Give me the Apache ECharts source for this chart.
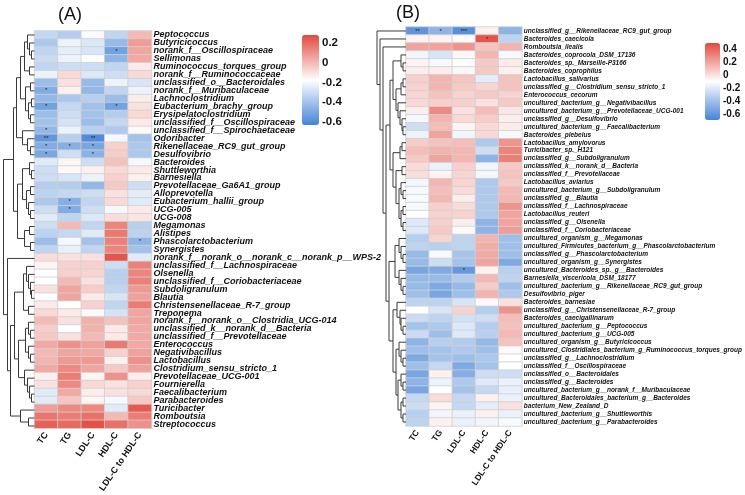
<!DOCTYPE html>
<html><head><meta charset="utf-8">
<script src="https://cdn.jsdelivr.net/npm/echarts@6/dist/echarts.min.js"></script>
<style>html,body{margin:0;padding:0;background:#fff}#c{width:745px;height:495px}</style>
</head><body><div id="c"></div>
<script>
const cols = ['TC','TG','LDL-C','HDL-C','LDL-C to HDL-C'];

const rowsA = ['Peptococcus','Butyricicoccus','norank_f__Oscillospiraceae','Sellimonas','Ruminococcus_torques_group','norank_f__Ruminococcaceae','unclassified_o__Bacteroidales','norank_f__Muribaculaceae','Lachnoclostridium','Eubacterium_brachy_group','Erysipelatoclostridium','unclassified_f__Oscillospiraceae','unclassified_f__Spirochaetaceae','Odoribacter','Rikenellaceae_RC9_gut_group','Desulfovibrio','Bacteroides','Shuttleworthia','Barnesiella','Prevotellaceae_Ga6A1_group','Alloprevotella','Eubacterium_hallii_group','UCG-005','UCG-008','Megamonas','Alistipes','Phascolarctobacterium','Synergistes','norank_f__norank_o__norank_c__norank_p__WPS-2','unclassified_f__Lachnospiraceae','Olsenella','unclassified_f__Coriobacteriaceae','Subdoligranulum','Blautia','Christensenellaceae_R-7_group','Treponema','norank_f__norank_o__Clostridia_UCG-014','unclassified_k__norank_d__Bacteria','unclassified_f__Prevotellaceae','Enterococcus','Negativibacillus','Lactobacillus','Clostridium_sensu_stricto_1','Prevotellaceae_UCG-001','Fournierella','Faecalibacterium','Parabacteroides','Turicibacter','Romboutsia','Streptococcus'];

const valuesA = [
[-0.32,-0.36,-0.19,-0.33,0.00],[-0.38,-0.22,-0.26,-0.43,0.07],[-0.33,-0.24,-0.27,-0.52,0.05],[-0.31,-0.22,-0.17,-0.45,0.04],
[-0.33,-0.30,-0.30,-0.33,-0.12],[-0.22,-0.08,-0.26,-0.30,-0.08],[-0.42,-0.10,-0.43,-0.22,-0.27],[-0.48,-0.14,-0.44,-0.33,-0.22],
[-0.44,-0.38,-0.35,-0.42,-0.13],[-0.52,-0.32,-0.40,-0.52,-0.10],[-0.42,-0.30,-0.40,-0.36,-0.08],[-0.40,-0.28,-0.42,-0.32,-0.12],
[-0.44,-0.22,-0.35,-0.37,-0.16],[-0.56,-0.35,-0.60,-0.20,-0.40],[-0.48,-0.47,-0.50,-0.06,-0.38],[-0.50,-0.30,-0.46,-0.05,-0.38],
[-0.25,-0.15,-0.30,-0.02,-0.20],[-0.30,-0.16,-0.14,-0.08,-0.12],[-0.30,-0.27,-0.22,-0.06,-0.14],[-0.36,-0.36,-0.44,-0.04,-0.30],
[-0.34,-0.32,-0.30,-0.10,-0.24],[-0.38,-0.47,-0.33,-0.08,-0.25],[-0.30,-0.48,-0.30,-0.20,-0.12],[-0.25,-0.33,-0.26,-0.09,-0.11],
[-0.30,0.00,-0.33,0.13,-0.35],[-0.34,-0.32,-0.25,0.16,-0.34],[-0.42,-0.20,-0.40,0.14,-0.45],[-0.33,-0.23,-0.33,0.13,-0.40],
[-0.09,-0.10,-0.10,0.25,-0.25],[-0.15,-0.06,-0.06,-0.30,0.14],[-0.17,-0.06,-0.07,-0.35,0.13],[-0.18,0.00,-0.10,-0.35,0.14],
[-0.10,0.05,-0.05,-0.33,0.08],[-0.17,0.05,-0.12,-0.27,0.06],[-0.12,-0.18,-0.06,-0.33,0.15],[-0.08,-0.12,-0.16,-0.28,0.05],
[0.00,-0.10,0.02,-0.02,0.05],[-0.05,-0.18,0.02,-0.12,0.04],[-0.04,-0.10,0.00,-0.12,0.04],[0.04,0.10,0.06,0.16,0.04],
[0.00,0.05,0.04,-0.06,0.06],[0.01,0.08,0.08,-0.14,0.10],[0.04,0.12,0.05,-0.04,0.06],[-0.14,0.15,-0.15,0.10,-0.13],
[-0.10,0.12,-0.08,-0.10,-0.06],[-0.25,0.04,-0.13,-0.10,-0.08],[-0.25,-0.03,-0.15,-0.20,-0.04],[0.07,0.12,0.12,-0.25,0.24],
[0.17,0.15,0.18,0.00,0.15],[0.22,0.20,0.26,0.18,0.10]];

const sigA = [[3,4,'*'],[8,1,'*'],[10,1,'*'],[10,4,'*'],[13,1,'*'],[14,1,'**'],[14,3,'**'],[15,1,'*'],[15,2,'*'],[15,3,'*'],[16,1,'*'],[16,3,'*'],[22,2,'*'],[23,2,'*'],[27,5,'*']];

const rowsB = ['unclassified_g__Rikenellaceae_RC9_gut_group','Bacteroides_caecicola','Romboutsia_ilealis','Bacteroides_coprocola_DSM_17136','Bacteroides_sp._Marseille-P3166','Bacteroides_coprophilus','Lactobacillus_salivarius','unclassified_g__Clostridium_sensu_stricto_1','Enterococcus_cecorum','uncultured_bacterium_g__Negativibacillus','uncultured_bacterium_g__Prevotellaceae_UCG-001','unclassified_g__Desulfovibrio','uncultured_bacterium_g__Faecalibacterium','Bacteroides_plebeius','Lactobacillus_amylovorus','Turicibacter_sp._H121','unclassified_g__Subdoligranulum','unclassified_k__norank_d__Bacteria','unclassified_f__Prevotellaceae','Lactobacillus_aviarius','uncultured_bacterium_g__Subdoligranulum','unclassified_g__Blautia','unclassified_f__Lachnospiraceae','Lactobacillus_reuteri','unclassified_g__Olsenella','unclassified_f__Coriobacteriaceae','uncultured_organism_g__Megamonas','uncultured_Firmicutes_bacterium_g__Phascolarctobacterium','unclassified_g__Phascolarctobacterium','uncultured_organism_g__Synergistes','uncultured_Bacteroides_sp._g__Bacteroides','Barnesiella_viscericola_DSM_18177','uncultured_bacterium_g__Rikenellaceae_RC9_gut_group','Desulfovibrio_piger','Bacteroides_barnesiae','unclassified_g__Christensenellaceae_R-7_group','Bacteroides_caecigallinarum','uncultured_bacterium_g__Peptococcus','uncultured_bacterium_g__UCG-005','uncultured_organism_g__Butyricicoccus','uncultured_Clostridiales_bacterium_g_Ruminococcus_torques_group','unclassified_g__Lachnoclostridium','unclassified_f__Oscillospiraceae','unclassified_o__Bacteroidales','unclassified_g__Bacteroides','uncultured_bacterium_g__norank_f__Muribaculaceae','uncultured_Bacteroidales_bacterium_g__Bacteroides','bacterium_New_Zealand_D','uncultured_bacterium_g__Shuttleworthis','uncultured_bacterium_g__Parabacteroides'];

const valuesB = [
[-0.60,-0.45,-0.62,-0.05,-0.45],[-0.06,-0.06,-0.08,0.45,-0.30],[0.20,0.20,0.25,0.10,0.15],[-0.14,-0.22,-0.07,0.14,-0.12],
[-0.06,-0.12,-0.09,0.08,-0.03],[-0.04,-0.04,-0.07,0.08,-0.05],[0.06,0.15,0.09,-0.18,0.10],[0.05,0.15,0.08,0.04,0.10],
[0.04,0.10,0.05,0.08,0.05],[0.03,0.06,0.06,0.00,0.08],[-0.04,0.28,0.00,0.12,-0.02],[-0.13,0.15,0.03,0.07,-0.04],
[-0.25,0.12,-0.06,0.03,-0.03],[-0.15,0.20,-0.14,0.03,-0.12],[0.07,0.10,0.12,-0.35,0.25],[0.12,0.15,0.14,-0.25,0.30],
[0.08,0.20,0.14,-0.45,0.32],[0.02,-0.16,0.06,-0.14,0.08],[0.01,-0.06,0.04,-0.13,0.10],[-0.13,0.14,0.04,-0.35,0.08],
[-0.12,0.12,0.02,-0.35,0.13],[-0.12,0.14,-0.04,-0.35,0.14],[-0.12,0.06,0.02,-0.35,0.25],[-0.10,0.05,0.05,-0.35,0.20],
[-0.20,0.06,-0.04,-0.45,0.20],[-0.20,0.08,-0.08,-0.45,0.22],[-0.33,0.04,-0.30,0.15,-0.40],[-0.30,-0.32,-0.30,0.17,-0.40],
[-0.42,-0.12,-0.37,0.18,-0.40],[-0.42,-0.25,-0.38,0.20,-0.50],[-0.52,-0.50,-0.58,-0.05,-0.32],[-0.42,-0.42,-0.34,0.13,-0.30],
[-0.42,-0.50,-0.42,0.07,-0.40],[-0.40,-0.52,-0.40,0.15,-0.35],[-0.30,-0.30,-0.22,-0.08,0.00],[-0.10,-0.22,0.05,-0.33,0.25],
[-0.26,-0.30,-0.24,-0.25,0.12],[-0.38,-0.35,-0.20,-0.33,0.10],[-0.26,-0.40,-0.20,-0.32,0.13],[-0.45,-0.32,-0.34,-0.43,0.10],
[-0.40,-0.38,-0.35,-0.40,-0.08],[-0.50,-0.38,-0.40,-0.36,-0.10],[-0.40,-0.28,-0.50,-0.38,-0.10],[-0.52,-0.05,-0.48,-0.25,-0.25],
[-0.45,-0.15,-0.35,-0.20,-0.16],[-0.52,-0.10,-0.38,-0.28,-0.17],[-0.28,0.02,-0.28,-0.05,-0.16],[-0.25,-0.06,-0.28,-0.18,0.00],
[-0.32,-0.14,-0.16,-0.05,-0.16],[-0.30,-0.05,-0.16,-0.14,-0.12]];

const sigB = [[1,1,'**'],[1,2,'*'],[1,3,'***'],[2,4,'*'],[31,3,'*']];

// dendrograms: [height, left, right]; leaves are 1-based row numbers
const treeA = [31,
  [21,
    [18,
      [14, [10, [7, 1, [5, 2, [3, 3, 4]]], [5, 5, 6]], [9, [4, 7, 8], [6, [3, 9, 10], [4, 11, 12]]]],
      [12, 13, [7, 14, [4, 15, 16]]]],
    [17,
      [12, [5, 17, [3, 18, 19]], [8, [4, 20, 21], [6, 22, [4, 23, 24]]]],
      [10, [5, 25, 26], [4, 27, 28]]]],
  [27, 29,
    [24,
      [20,
        [11, [8, 30, [6, 31, [4, 32, [3, 33, 34]]]], [6, 35, 36]],
        [16, [9, [6, 37, [4, 38, 39]], [6, 40, [4, 41, 42]]], [10, 43, [7, 44, [5, 45, [3, 46, 47]]]]]],
      [14, 48, [6, 49, 50]]]]];

const treeB = [29, 1,
  [26, 2,
    [23, 3,
      [20,
        [16,
          [13, [5, 4, [3, 5, 6]], [10, [5, [3, 7, 8], 9], [8, 10, [6, 11, [4, 12, [3, 13, 14]]]]]],
          [13, [6, [4, 15, 16], 17], [10, [4, 18, 19], [7, [5, 20, [3, 21, 22]], [5, [3, 23, 24], [3, 25, 26]]]]]],
        [17,
          [11, [7, 27, [5, 28, [3, 29, 30]]], [7, 31, [5, 32, [3, 33, 34]]]],
          [13, [9, 35, [6, 36, [5, 37, [3, 38, 39]]]], [10, [7, 40, [5, 41, [3, 42, 43]]], [8, [5, 44, [3, 45, 46]], [5, [3, 47, 48], [3, 49, 50]]]]]]]]]];

const legendTicksA = [-0.6, -0.4, -0.2, 0, 0.2];
const legendTicksB = [-0.6, -0.4, -0.2, 0, 0.2, 0.4];

function heatData(values, sig) {
  const out = [];
  values.forEach((row, r) => row.forEach((v, c) => {
    const s = sig.find(d => d[0] === r + 1 && d[1] === c + 1);
    out.push({ value: [c, r, v], star: s ? s[2] : '' });
  }));
  return out;
}
function dendroSegs(tree) {
  const segs = [];
  function walk(n) {
    if (typeof n === 'number') return { h: 0, y: n - 1 };
    const L = walk(n[1]), R = walk(n[2]);
    segs.push([L.h, L.y, n[0], R.y, R.h]);
    return { h: n[0], y: (L.y + R.y) / 2 };
  }
  walk(tree);
  return segs;
}
function renderBracket(params, api) {
  const p1 = api.coord([api.value(0), api.value(1)]);
  const p2 = api.coord([api.value(2), api.value(1)]);
  const p3 = api.coord([api.value(2), api.value(3)]);
  const p4 = api.coord([api.value(4), api.value(3)]);
  return { type: 'polyline', shape: { points: [p1, p2, p3, p4] }, style: { stroke: '#3a3a3a', fill: null, lineWidth: 1 } };
}

const FONT = 'Liberation Sans, Arial, sans-serif';
const BLUE = '#4484D7', RED = '#E3493D';
const fmt = v => String(Math.round(v * 10) / 10);

function heatXAxis(gi, fs) {
  return { type: 'category', gridIndex: gi, data: cols, position: 'bottom',
    axisLine: { show: false }, axisTick: { show: false }, splitArea: { show: false },
    axisLabel: { rotate: 56, interval: 0, fontSize: fs, fontWeight: 'bold', fontFamily: FONT, color: '#111', margin: 5 } };
}
function heatYAxis(gi, rows, fs) {
  return { type: 'category', gridIndex: gi, data: rows, inverse: true, position: 'right',
    axisLine: { show: false }, axisTick: { show: false },
    axisLabel: { interval: 0, fontSize: fs, fontWeight: 'bold', fontStyle: 'italic', fontFamily: FONT, color: '#111', margin: 2 } };
}
function legendYAxis(gi, min, max, ticks, fs) {
  return { type: 'value', gridIndex: gi, min: min, max: max, position: 'right',
    axisLine: { show: false }, splitLine: { show: false },
    axisTick: { show: true, customValues: ticks, length: 3, lineStyle: { color: '#333' } },
    axisLabel: { customValues: ticks, formatter: fmt, fontSize: fs, fontWeight: 'bold', fontFamily: FONT, color: '#111', margin: 3 } };
}
function heatSeries(xi, yi, data) {
  return { type: 'heatmap', xAxisIndex: xi, yAxisIndex: yi, data: data,
    itemStyle: { borderColor: '#d0d0d0', borderWidth: 0.8 },
    label: { show: true, formatter: p => p.data.star, fontSize: 6, color: '#222', fontFamily: FONT },
    emphasis: { disabled: true } };
}

const option = {
  animation: false,
  backgroundColor: '#fff',
  title: [
    { text: '(A)', left: 53, top: 1, textStyle: { fontSize: 18, fontWeight: 'normal', fontFamily: FONT, color: '#111' } },
    { text: '(B)', left: 391, top: -1, textStyle: { fontSize: 18, fontWeight: 'normal', fontFamily: FONT, color: '#111' } }
  ],
  grid: [
    { left: 34.5, top: 31, width: 117, height: 399 },
    { left: 2, top: 31, width: 32.5, height: 399 },
    { left: 406, top: 27, width: 120, height: 399 },
    { left: 376, top: 27, width: 30, height: 399 },
    { left: 302, top: 35, width: 17, height: 90 },
    { left: 705, top: 43, width: 15, height: 77 }
  ],
  xAxis: [
    heatXAxis(0, 9),
    { type: 'value', gridIndex: 1, min: 0, max: 32.5, inverse: true, show: false },
    heatXAxis(2, 8.5),
    { type: 'value', gridIndex: 3, min: 0, max: 30, inverse: true, show: false },
    { type: 'value', gridIndex: 4, show: false },
    { type: 'value', gridIndex: 5, show: false }
  ],
  yAxis: [
    heatYAxis(0, rowsA, 9),
    { type: 'value', gridIndex: 1, min: -0.5, max: 49.5, inverse: true, show: false },
    heatYAxis(2, rowsB, 6.5),
    { type: 'value', gridIndex: 3, min: -0.5, max: 49.5, inverse: true, show: false },
    legendYAxis(4, -0.63, 0.28, legendTicksA, 11.5),
    legendYAxis(5, -0.68, 0.49, legendTicksB, 10)
  ],
  visualMap: [
    { type: 'continuous', seriesIndex: 0, min: -0.63, max: 0.28, left: 302, top: 35, itemWidth: 17, itemHeight: 90,
      padding: 0, calculable: false, hoverLink: false, orient: 'vertical', inRange: { color: [BLUE, '#ffffff', RED] } },
    { type: 'continuous', seriesIndex: 2, min: -0.68, max: 0.49, left: 705, top: 43, itemWidth: 15, itemHeight: 77,
      padding: 0, calculable: false, hoverLink: false, orient: 'vertical', inRange: { color: [BLUE, '#ffffff', RED] } }
  ],
  series: [
    heatSeries(0, 0, heatData(valuesA, sigA)),
    { type: 'custom', xAxisIndex: 1, yAxisIndex: 1, data: dendroSegs(treeA), renderItem: renderBracket, silent: true },
    heatSeries(2, 2, heatData(valuesB, sigB)),
    { type: 'custom', xAxisIndex: 3, yAxisIndex: 3, data: dendroSegs(treeB), renderItem: renderBracket, silent: true }
  ]
};
echarts.init(document.getElementById('c'), null, { renderer: 'canvas' }).setOption(option);
</script></body></html>
